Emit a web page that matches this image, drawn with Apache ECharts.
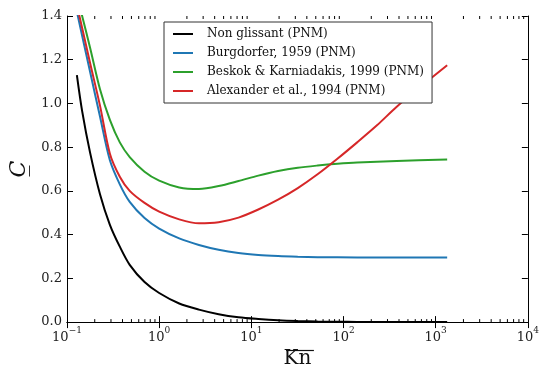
<!DOCTYPE html>
<html>
<head>
<meta charset="utf-8">
<script src="https://cdn.jsdelivr.net/npm/echarts@6/dist/echarts.min.js"></script>
<style>
html,body{margin:0;padding:0;background:#fff;}
#chart{width:542px;height:374px;}
</style>
</head>
<body>
<div id="chart"></div>
<script>
// ---- data (Kn, C) ----
const seriesNames = [
  'Non glissant (PNM)',
  'Burgdorfer, 1959 (PNM)',
  'Beskok & Karniadakis, 1999 (PNM)',
  'Alexander et al., 1994 (PNM)'
];
const seriesColors = ['#000000', '#1f77b4', '#2ca02c', '#d62728'];

const nonGlissant = [
  [0.128,1.13],[0.146,0.965],[0.178,0.775],[0.228,0.585],[0.292,0.445],[0.374,0.345],
  [0.479,0.262],[0.694,0.183],[1.0,0.133],[1.65,0.085],[2.7,0.057],[4.42,0.036],
  [7.25,0.022],[11.9,0.014],[19.5,0.008],[31.9,0.0045],[52.3,0.0025],[85.8,0.0015],
  [140.6,0.001],[377.9,0.0005],[1332,0.0002]
];
const burgdorfer = [
  [0.128,1.42],[0.146,1.31],[0.178,1.145],[0.228,0.94],[0.292,0.74],[0.374,0.63],
  [0.479,0.55],[0.694,0.476],[1.0,0.428],[1.65,0.383],[2.7,0.353],[4.42,0.331],
  [7.25,0.316],[11.9,0.307],[19.5,0.302],[31.9,0.299],[52.3,0.297],[140.6,0.2955],
  [377.9,0.295],[1332,0.295]
];
const beskok = [
  [0.128,1.50],[0.146,1.40],[0.178,1.255],[0.228,1.065],[0.292,0.925],[0.374,0.822],
  [0.479,0.755],[0.694,0.688],[1.0,0.647],[1.65,0.616],[2.7,0.609],[4.42,0.622],
  [7.25,0.645],[11.9,0.67],[19.5,0.691],[31.9,0.706],[52.3,0.716],[85.8,0.724],
  [140.6,0.73],[377.9,0.737],[1332,0.744]
];
const alexander = [
  [0.128,1.45],[0.146,1.345],[0.178,1.185],[0.228,0.99],[0.292,0.77],[0.374,0.665],
  [0.479,0.6],[0.694,0.545],[1.0,0.505],[1.65,0.47],[2.7,0.452],[4.42,0.457],
  [7.25,0.478],[11.9,0.515],[19.5,0.56],[31.9,0.613],[52.3,0.676],[85.8,0.747],
  [140.6,0.822],[230.6,0.9],[377.9,0.985],[700.9,1.08],[1332,1.175]
];

// ---- axes ----
const xMin = 0.1, xMax = 10000;
const yMin = 0, yMax = 1.4, yStep = 0.2;
const xMinorMultipliers = [2, 3, 4, 5, 6, 7, 8, 9];
const xAxisTitle = 'Kn';
const yAxisTitle = 'C\u0332';

const minorTicks = [];
for (let e = -1; e < 4; e++) {
  xMinorMultipliers.forEach(m => minorTicks.push([m * Math.pow(10, e)]));
}

const serif = 'DejaVu Serif';
const fmtExp = v => {
  const e = Math.round(Math.log10(v));
  return '{b|10}{s|' + (e < 0 ? '\u2212' + (-e) : e) + '}';
};
const richExp = {
  b: {fontFamily: serif, fontSize: 13, color: '#222', lineHeight: 18, verticalAlign: 'bottom'},
  s: {fontFamily: serif, fontSize: 9, color: '#222', lineHeight: 18, verticalAlign: 'top', padding: [0,0,6,0]}
};

const chart = echarts.init(document.getElementById('chart'), null, {renderer: 'canvas'});

const lineSeries = [nonGlissant, burgdorfer, beskok, alexander].map((d, i) => ({
  name: seriesNames[i],
  type: 'line',
  data: d,
  xAxisIndex: 0,
  yAxisIndex: 0,
  showSymbol: false,
  smooth: 0.3,
  clip: true,
  lineStyle: {color: seriesColors[i], width: 2},
  itemStyle: {color: seriesColors[i]},
  z: 3
}));

// overline width for the x-axis title
const mctx = document.createElement('canvas').getContext('2d');
mctx.font = '20px "' + serif + '"';
const titleW = mctx.measureText(xAxisTitle).width;
const titleCx = 300;

chart.setOption({
  animation: false,
  backgroundColor: '#fff',
  grid: {left: 67, right: 9, top: 16, bottom: 48, containLabel: false},
  legend: {
    orient: 'vertical',
    left: 164,
    top: 22,
    data: seriesNames,
    icon: 'rect',
    itemWidth: 20,
    itemHeight: 2,
    itemGap: 3,
    padding: [4, 8, 4, 9],
    borderColor: '#333',
    borderWidth: 1,
    backgroundColor: '#fff',
    selectedMode: false,
    textStyle: {fontFamily: serif, fontSize: 12, color: '#111', lineHeight: 16, padding: [0,0,0,9]}
  },
  xAxis: [{
    type: 'log', logBase: 10, min: xMin, max: xMax, interval: 1,
    position: 'bottom',
    name: xAxisTitle,
    nameLocation: 'middle',
    nameGap: 25,
    nameTextStyle: {fontFamily: serif, fontSize: 20, color: '#111'},
    axisLine: {show: true, lineStyle: {color: '#000', width: 1}},
    axisTick: {show: true, inside: true, length: 6, lineStyle: {color: '#000'}},
    axisLabel: {formatter: fmtExp, rich: richExp, margin: 4},
    splitLine: {show: false}
  }, {
    type: 'log', logBase: 10, min: xMin, max: xMax, interval: 1,
    position: 'top',
    axisLine: {show: true, lineStyle: {color: '#000', width: 1}},
    axisTick: {show: true, inside: true, length: 6, lineStyle: {color: '#000'}},
    axisLabel: {show: false},
    splitLine: {show: false}
  }],
  yAxis: [{
    type: 'value', min: yMin, max: yMax, interval: yStep,
    position: 'left',
    name: yAxisTitle,
    nameLocation: 'middle',
    nameGap: 34,
    nameRotate: 90,
    nameTextStyle: {fontFamily: serif, fontSize: 22, fontStyle: 'italic', color: '#111'},
    axisLine: {show: true, lineStyle: {color: '#000', width: 1}},
    axisTick: {show: true, inside: true, length: 6, lineStyle: {color: '#000'}},
    axisLabel: {formatter: v => v.toFixed(1), fontFamily: serif, fontSize: 13, color: '#222', margin: 5},
    splitLine: {show: false}
  }, {
    type: 'value', min: yMin, max: yMax, interval: yStep,
    position: 'right',
    axisLine: {show: true, lineStyle: {color: '#000', width: 1}},
    axisTick: {show: true, inside: true, length: 6, lineStyle: {color: '#000'}},
    axisLabel: {show: false},
    splitLine: {show: false}
  }],
  graphic: [{
    type: 'line',
    shape: {x1: titleCx - titleW / 2, y1: 350.5, x2: titleCx + titleW / 2, y2: 350.5},
    style: {stroke: '#111', lineWidth: 1.2},
    silent: true
  }],
  series: lineSeries.concat([{
    type: 'custom',
    name: 'minorTicks',
    xAxisIndex: 0,
    yAxisIndex: 0,
    data: minorTicks,
    silent: true,
    z: 4,
    renderItem: function (params, api) {
      const v = api.value(0);
      const b = api.coord([v, yMin]);
      const t = api.coord([v, yMax]);
      const style = {stroke: '#000', lineWidth: 1};
      return {
        type: 'group',
        children: [
          {type: 'line', shape: {x1: b[0], y1: b[1], x2: b[0], y2: b[1] - 3}, style: style},
          {type: 'line', shape: {x1: t[0], y1: t[1], x2: t[0], y2: t[1] + 3}, style: style}
        ]
      };
    }
  }])
});
</script>
</body>
</html>
